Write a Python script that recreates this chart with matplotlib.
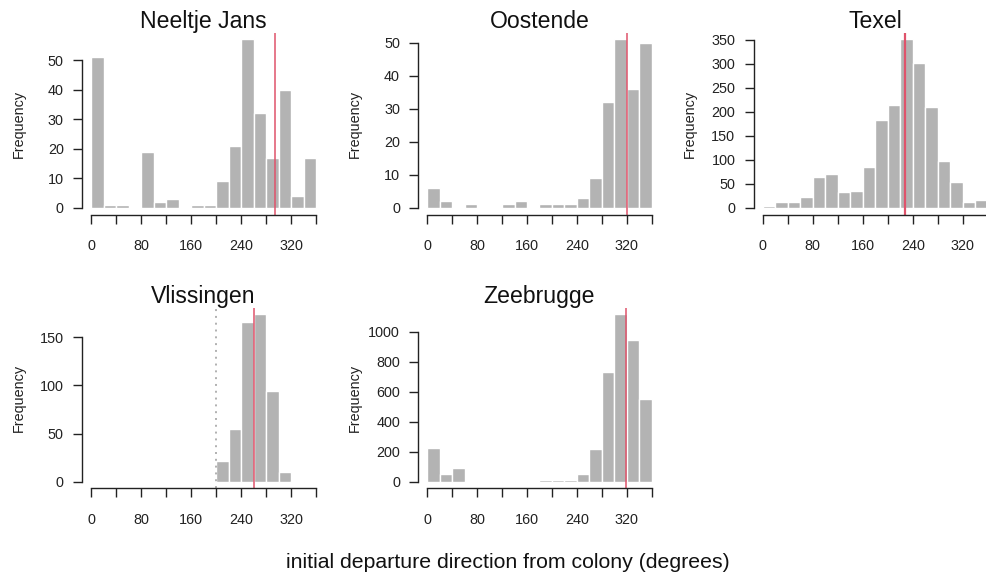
import matplotlib.pyplot as plt
import numpy as np

plt.rcParams['font.family'] = ['Liberation Sans', 'DejaVu Sans']

# 20 degree bins from 0 to 360
bin_edges = np.arange(0, 361, 20)

colonies = ['Neeltje Jans', 'Oostende', 'Texel', 'Vlissingen', 'Zeebrugge']

counts_neeltje = [51, 1, 1, 0, 19, 2, 3, 0, 1, 1, 9, 21, 57, 32, 17, 40, 4, 17]
counts_oostende = [6, 2, 0, 1, 0, 0, 1, 2, 0, 1, 1, 1, 3, 9, 32, 51, 36, 50]
counts_texel = [4, 13, 13, 23, 65, 70, 33, 36, 84, 183, 214, 351, 302, 210, 98, 53, 11, 16]
counts_vlissingen = [0, 0, 0, 0, 0, 0, 0, 0, 0, 0, 21, 55, 166, 174, 94, 10, 1, 1]
counts_zeebrugge = [225, 51, 89, 0, 2, 3, 2, 3, 2, 8, 8, 8, 49, 221, 734, 1116, 944, 549]

# mean departure direction per colony
mean_direction = [295, 320, 228, 261, 318]

y_ticks = [
    [0, 10, 20, 30, 40, 50],
    [0, 10, 20, 30, 40, 50],
    [0, 50, 100, 150, 200, 250, 300, 350],
    [0, 50, 100, 150],
    [0, 200, 400, 600, 800, 1000],
]

x_ticks = np.arange(0, 361, 40)
x_labels = [str(t) if t % 80 == 0 else '' for t in x_ticks]

all_counts = [counts_neeltje, counts_oostende, counts_texel,
              counts_vlissingen, counts_zeebrugge]

W, H = 987, 577
fig = plt.figure(figsize=(W / 100, H / 100), dpi=100)

# panel boxes in pixels: left, top, right, bottom
boxes = [
    (82, 32.7, 325, 214.5),
    (418.3, 32.7, 660.7, 214.5),
    (753.7, 32.7, 996.7, 214.5),
    (82, 307.5, 325, 488.4),
    (418.3, 307.5, 660.7, 488.4),
]

bar_color = '#b3b3b3'
line_color = '#df536b'

for i in range(5):
    l, t, r, b = boxes[i]
    ax = fig.add_axes([l / W, 1 - b / H, (r - l) / W, (b - t) / H])
    counts = all_counts[i]
    ax.bar(bin_edges[:-1], counts, width=20, align='edge',
           color=bar_color, edgecolor='white', linewidth=1)

    top = max(counts)
    ax.set_xlim(-14.4, 374.4)
    ax.set_ylim(-0.04 * top, 1.04 * top)

    if colonies[i] == 'Vlissingen':
        ax.axvline(200, color='#b0b0b0', linestyle=(0, (1, 2.5)), lw=1.4)
    lw = 1.6 if colonies[i] == 'Texel' else 1.1
    ax.axvline(mean_direction[i], color=line_color, lw=lw)

    ax.spines['top'].set_visible(False)
    ax.spines['right'].set_visible(False)
    ax.spines['left'].set_bounds(0, y_ticks[i][-1])
    ax.spines['bottom'].set_bounds(0, 360)
    for s in ['left', 'bottom']:
        ax.spines[s].set_linewidth(1)
        ax.spines[s].set_color('#222222')

    ax.set_xticks(x_ticks)
    ax.set_xticklabels(x_labels)
    ax.set_yticks(y_ticks[i])
    ax.tick_params(axis='x', length=6.5, width=1, pad=11.5, labelsize=10.4,
                   color='#222222', labelcolor='#222222')
    ax.tick_params(axis='y', length=6.5, width=1, pad=6.7, labelsize=10.4,
                   color='#222222', labelcolor='#222222')

    ax.set_title(colonies[i], fontsize=16.6, pad=2, color='#111111')
    fig.text((l - 63.5) / W, 1 - ((t + b) / 2) / H, 'Frequency',
             rotation=90, ha='center', va='center', fontsize=10.4,
             color='#222222')

fig.text(508 / W, 1 - 563 / H, 'initial departure direction from colony (degrees)',
         ha='center', va='center', fontsize=15.3, color='#111111')

fig.savefig('out.png', dpi=100)
